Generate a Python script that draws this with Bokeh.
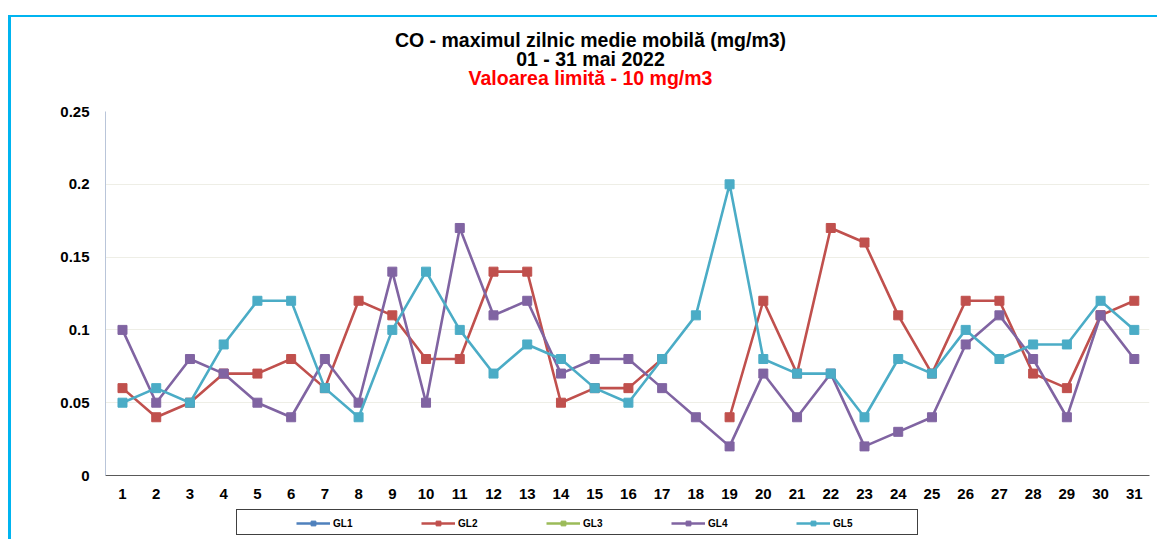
from bokeh.plotting import figure
from bokeh.layouts import column
from bokeh.models import (ColumnDataSource, FixedTicker, Legend, LegendItem, Label)
from bokeh.embed import file_html
from bokeh.resources import INLINE

nan = float("nan")
days = list(range(1, 32))
gl1 = [nan] * 31
gl2 = [0.06, 0.04, 0.05, 0.07, 0.07, 0.08, 0.06, 0.12, 0.11, 0.08, 0.08, 0.14, 0.14, 0.05, 0.06, 0.06,
       0.08, nan, 0.04, 0.12, 0.07, 0.17, 0.16, 0.11, 0.07, 0.12, 0.12, 0.07, 0.06, 0.11, 0.12]
gl3 = [nan] * 31
gl4 = [0.10, 0.05, 0.08, 0.07, 0.05, 0.04, 0.08, 0.05, 0.14, 0.05, 0.17, 0.11, 0.12, 0.07, 0.08, 0.08,
       0.06, 0.04, 0.02, 0.07, 0.04, 0.07, 0.02, 0.03, 0.04, 0.09, 0.11, 0.08, 0.04, 0.11, 0.08]
gl5 = [0.05, 0.06, 0.05, 0.09, 0.12, 0.12, 0.06, 0.04, 0.10, 0.14, 0.10, 0.07, 0.09, 0.08, 0.06, 0.05,
       0.08, 0.11, 0.20, 0.08, 0.07, 0.07, 0.04, 0.08, 0.07, 0.10, 0.08, 0.09, 0.09, 0.12, 0.10]
series_names = ["GL1", "GL2", "GL3", "GL4", "GL5"]
series_values = [gl1, gl2, gl3, gl4, gl5]
series_colors = ["#4F81BD", "#C0504D", "#9BBB59", "#8064A2", "#4BACC6"]
y_ticks = [0, 0.05, 0.1, 0.15, 0.2, 0.25]
y_tick_labels = ["0", "0.05", "0.1", "0.15", "0.2", "0.25"]
title1 = "CO - maximul zilnic medie mobilă (mg/m3)"
title2 = "01 - 31 mai 2022"
title3 = "Valoarea limită - 10 mg/m3"

FONT = "Liberation Sans"
W = 1157
H_TOP, H_MAIN, H_LEG = 95, 407, 37          # three stacked canvases = 539 px
FL, FR, FT, FB = 105, 1149, 111, 475        # plot frame edges in page pixels


def blank(height, xr, yr):
    f = figure(width=W, height=height, output_backend="svg", toolbar_location=None,
               x_range=xr, y_range=yr, x_axis_location=None, y_axis_location=None,
               min_border=0, min_border_left=0, min_border_right=0,
               min_border_top=0, min_border_bottom=0)
    f.outline_line_color = None
    f.xgrid.visible = False
    f.ygrid.visible = False
    f.background_fill_color = "white"
    f.border_fill_color = "white"
    return f


# ---- title canvas (the column aligns its frame with the chart frame: x in page pixels)
p_top = blank(H_TOP, (FL, FR), (H_TOP, 0))
for txt, yy, col in [(title1, 39, "#000000"), (title2, 58, "#000000"), (title3, 77.5, "#FF0000")]:
    p_top.add_layout(Label(x=590, y=yy, text=txt, text_align="center", text_baseline="alphabetic",
                           text_font=FONT, text_font_style="bold", text_font_size="19.5px",
                           text_color=col))

# ---- main chart
p = figure(width=W, height=H_MAIN, output_backend="svg", toolbar_location=None,
           x_range=(0.496, 31.45), y_range=(0, 0.25),
           min_border_left=FL, min_border_right=W - FR,
           min_border_top=FT - H_TOP, min_border_bottom=H_TOP + H_MAIN - FB)
p.outline_line_color = None
p.background_fill_color = "white"
p.border_fill_color = "white"
p.xaxis.ticker = FixedTicker(ticks=days)
p.yaxis.ticker = FixedTicker(ticks=y_ticks)
p.yaxis.major_label_overrides = {t: l for t, l in zip(y_ticks, y_tick_labels)}
for ax in (p.xaxis, p.yaxis):
    ax.major_tick_line_color = None
    ax.minor_tick_line_color = None
    ax.major_label_text_font = FONT
    ax.major_label_text_font_style = "bold"
    ax.major_label_text_font_size = "15px"
    ax.major_label_text_color = "#000000"
p.xaxis.axis_line_color = "#595959"
p.xaxis.axis_line_width = 1
p.xaxis.major_label_standoff = 7
p.yaxis.axis_line_color = "#B9C5D9"
p.yaxis.axis_line_width = 1
p.yaxis.major_label_standoff = 10
p.xgrid.grid_line_color = None
p.ygrid.grid_line_color = "#EEEEE6"
p.ygrid.grid_line_width = 1

for name, vals, col in zip(series_names, series_values, series_colors):
    src = ColumnDataSource(dict(x=days, y=vals))
    p.line("x", "y", source=src, line_color=col, line_width=2.6)
    p.scatter("x", "y", source=src, marker="square", size=9, fill_color=col, line_color=col)

# ---- legend canvas (series proxies lie outside its range, only their legend glyphs show)
p_leg = blank(H_LEG, (-100, -99), (0, 1))
items = []
for name, vals, col in zip(series_names, series_values, series_colors):
    src = ColumnDataSource(dict(x=days, y=vals))
    r1 = p_leg.line("x", "y", source=src, line_color=col, line_width=2.6)
    r2 = p_leg.scatter("x", "y", source=src, marker="square", size=7, fill_color=col, line_color=col)
    items.append(LegendItem(label=name, renderers=[r1, r2]))
legend = Legend(items=items, orientation="horizontal", location=(296 - FL, 10),
                border_line_color=None, background_fill_alpha=0,
                glyph_width=34, glyph_height=12, label_height=12, label_width=20,
                label_standoff=3, spacing=68, padding=7, margin=0,
                label_text_font=FONT, label_text_font_style="bold",
                label_text_font_size="10px", label_text_color="#000000")
p_leg.add_layout(legend, "center")
p_leg.stylesheets = ["""
:host { position: relative; }
:host::before { content: ""; position: absolute; left: 236px; top: 7px; width: 682px; height: 26px;
  box-sizing: border-box; border: 1px solid #404040; pointer-events: none; z-index: 5; }
"""]

layout = column(p_top, p, p_leg, spacing=0)
layout.stylesheets = ["""
:host { position: relative; }
:host::after { content: ""; position: absolute; left: 8px; top: 15px; width: 1149px; height: 524px;
  box-sizing: border-box; border-left: 3px solid #00B4F0; border-top: 2px solid #00B4F0;
  pointer-events: none; z-index: 5; }
"""]

open("out.html", "w").write(file_html(layout, INLINE))
